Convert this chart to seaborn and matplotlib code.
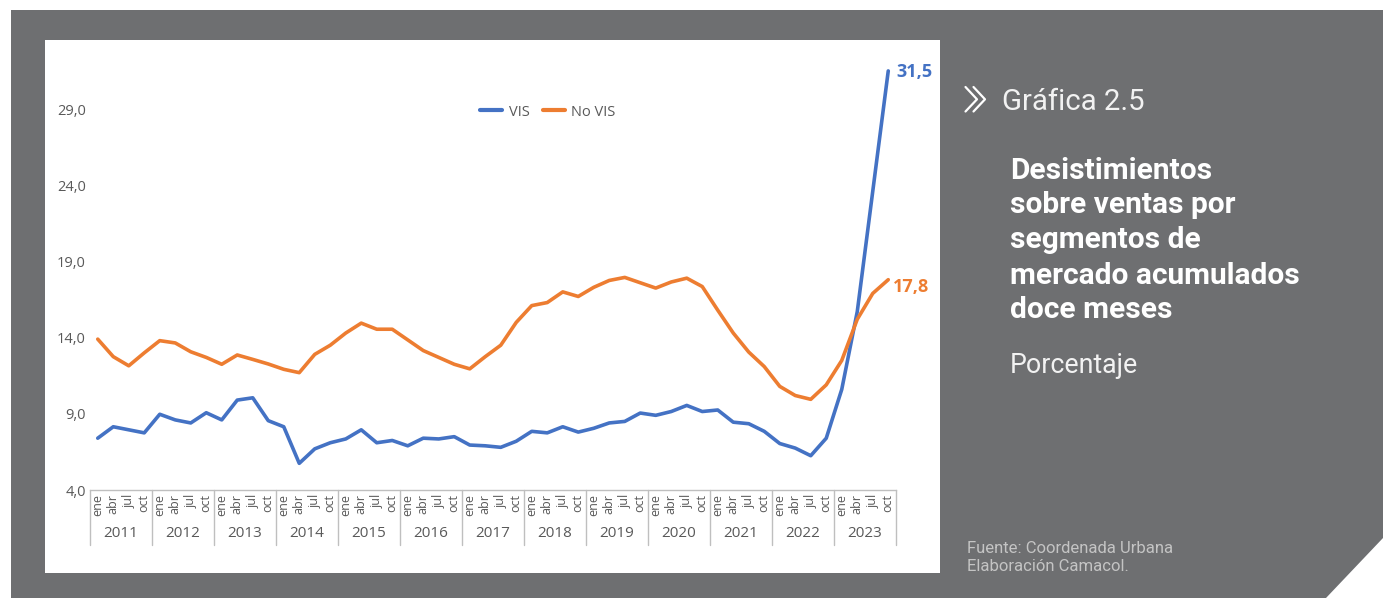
import numpy as np
import pandas as pd
import matplotlib
matplotlib.use("Agg")
import matplotlib.pyplot as plt
from matplotlib.patches import Rectangle, Polygon
from matplotlib.lines import Line2D
import seaborn as sns

years = ["2011", "2012", "2013", "2014", "2015", "2016", "2017",
         "2018", "2019", "2020", "2021", "2022", "2023"]
quarters = ["ene", "abr", "jul", "oct"]

vis = [7.4, 8.15, 7.95, 7.75, 8.97, 8.6, 8.4, 9.07, 8.6, 9.9, 10.05, 8.55, 8.15,
       5.75, 6.7, 7.1, 7.35, 7.95, 7.1, 7.25, 6.9, 7.4, 7.35, 7.5, 6.95, 6.9,
       6.8, 7.2, 7.85, 7.75, 8.15, 7.8, 8.05, 8.4, 8.5, 9.05, 8.9, 9.15, 9.55,
       9.15, 9.25, 8.45, 8.35, 7.85, 7.05, 6.75, 6.25, 7.4, 10.6, 15.7, 23.6, 31.5]
no_vis = [13.9, 12.75, 12.15, 13.0, 13.8, 13.65, 13.07, 12.7, 12.25, 12.86, 12.57,
          12.27, 11.92, 11.7, 12.9, 13.5, 14.3, 14.95, 14.55, 14.55, 13.85, 13.15,
          12.7, 12.25, 11.95, 12.75, 13.5, 15.0, 16.1, 16.3, 17.0, 16.7, 17.3,
          17.75, 17.95, 17.6, 17.25, 17.65, 17.9, 17.35, 15.8, 14.3, 13.05, 12.1,
          10.8, 10.2, 9.95, 10.9, 12.5, 15.2, 16.9, 17.8]
series_names = ["VIS", "No VIS"]
end_labels = ["31,5", "17,8"]
y_ticks = [4, 9, 14, 19, 24, 29]
y_tick_labels = ["4,0", "9,0", "14,0", "19,0", "24,0", "29,0"]

colors = {"VIS": "#4472C4", "No VIS": "#ED7D31"}
grey_bg = "#6e6f71"
txt_col = "#595959"

n = len(vis)
df = pd.DataFrame({
    "pos": list(range(n)) * 2,
    "valor": vis + no_vis,
    "serie": [series_names[0]] * n + [series_names[1]] * n,
})

sns.set_theme(style="white")
plt.rcParams["font.family"] = ["Open Sans", "DejaVu Sans"]

W, H = 1383, 598
fig = plt.figure(figsize=(W / 100, H / 100), dpi=100, facecolor="white")

# background blocks
fig.add_artist(Rectangle((11 / W, 0), 1 - 11 / W, (H - 10) / H,
                         transform=fig.transFigure, facecolor=grey_bg,
                         edgecolor="none", zorder=-3))
fig.add_artist(Polygon([(1, (H - 538) / H), (1, 0), (1326 / W, 0)], closed=True,
                       transform=fig.transFigure, facecolor="white",
                       edgecolor="none", zorder=-2))
fig.add_artist(Rectangle((45 / W, (H - 573) / H), 895 / W, 533 / H,
                         transform=fig.transFigure, facecolor="white",
                         edgecolor="none", zorder=-1))

ax = fig.add_axes([90 / W, 108 / H, 806 / W, 426.7 / H])
ax.patch.set_alpha(0)

sns.lineplot(data=df, x="pos", y="valor", hue="serie", palette=colors,
             linewidth=2.6, ax=ax, legend=False)

ax.set_xlim(-0.5, n - 0.5)
ax.set_ylim(4, 32)
ax.set_xlabel("")
ax.set_ylabel("")

ax.set_yticks(y_ticks)
ax.set_yticklabels(y_tick_labels, fontsize=10.5, color=txt_col)
ax.tick_params(axis="y", length=0, pad=3)

qlabels = [q for _ in years for q in quarters]
ax.set_xticks(range(n))
ax.set_xticklabels(qlabels, rotation=90, fontsize=9, color=txt_col, va="top")
ax.tick_params(axis="x", length=0, pad=3)

for s in ["top", "right", "left"]:
    ax.spines[s].set_visible(False)
ax.spines["bottom"].set_color("#bfbfbf")
ax.spines["bottom"].set_linewidth(1)

# year separators and year labels
trans = ax.get_xaxis_transform()
for k in range(len(years) + 1):
    xb = k * len(quarters) - 0.5
    ax.plot([xb, xb], [0, -0.129], transform=trans, color="#bfbfbf",
            linewidth=1, clip_on=False)
for k, yr in enumerate(years):
    xc = k * len(quarters) + (len(quarters) - 1) / 2
    ax.text(xc, -0.103, yr, transform=trans, ha="center", va="center",
            fontsize=11, color=txt_col)

# end value labels
ax.text(n - 1 + 0.55, vis[-1] - 0.1, end_labels[0], color=colors["VIS"],
        fontsize=13, fontweight="bold", ha="left", va="center")
ax.text(n - 1 + 0.3, no_vis[-1] - 0.45, end_labels[1], color=colors["No VIS"],
        fontsize=13, fontweight="bold", ha="left", va="center")

handles = [Line2D([0], [0], color=colors[s], linewidth=3) for s in series_names]
fig.legend(handles, series_names, loc="center", bbox_to_anchor=(548 / W, 1 - 112 / H),
           ncol=2, frameon=False, fontsize=10.5, labelcolor=txt_col,
           handlelength=1.5, columnspacing=0.9, handletextpad=0.45)

# right-hand side text
for dx in (0, 8):
    fig.add_artist(Line2D([(965.5 + dx) / W, (977 + dx) / W, (965.5 + dx) / W],
                          [1 - 87 / H, 1 - 99.3 / H, 1 - 111.5 / H],
                          transform=fig.transFigure, color="white", linewidth=1.6))
fig.text(1002 / W, 1 - 110.5 / H, "Gráfica 2.5", family="Roboto", fontsize=21.2,
         color="#f2f2f2", ha="left", va="baseline")

title_lines = ["Desistimientos", "sobre ventas por", "segmentos de",
               "mercado acumulados", "doce meses"]
for i, line in enumerate(title_lines):
    fig.text(1010 / W, 1 - (178.5 + 35 * i) / H, line, family="Roboto",
             fontweight="bold", fontsize=21.5, color="white",
             ha="left", va="baseline")
fig.text(1010 / W, 1 - 373 / H, "Porcentaje", family="Roboto", fontsize=19.3,
         color="#f2f2f2", ha="left", va="baseline")

fig.text(967 / W, 1 - 553 / H, "Fuente: Coordenada Urbana", family="Roboto",
         fontsize=12, color="#c4c4c4", ha="left", va="baseline")
fig.text(967 / W, 1 - 571 / H, "Elaboración Camacol.", family="Roboto",
         fontsize=12, color="#c4c4c4", ha="left", va="baseline")

fig.savefig("out.png", dpi=100, facecolor="white")
